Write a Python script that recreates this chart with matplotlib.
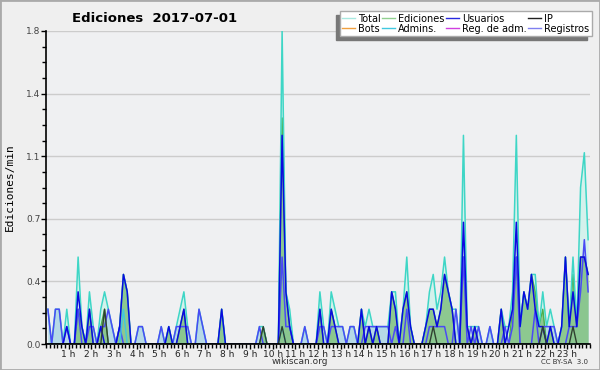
import matplotlib
matplotlib.use("Agg")
import matplotlib.pyplot as plt
from matplotlib.lines import Line2D
import numpy as np

# edits per 10-minute bucket (value = n / 10 edits per minute), 144 buckets
total = [2, 0, 2, 2, 0, 2,   0, 0, 5, 1, 0, 3,   1, 0, 2, 3, 2, 1,   0, 1, 4, 3, 0, 0,
         1, 1, 0, 0, 0, 0,   1, 0, 1, 0, 1, 2,   3, 1, 0, 0, 2, 1,   0, 0, 0, 0, 2, 0,
         0, 0, 0, 0, 0, 0,   0, 0, 1, 1, 0, 0,   0, 0, 18, 3, 2, 0,  0, 0, 1, 0, 0, 0,
         3, 1, 0, 3, 2, 1,   1, 0, 1, 1, 0, 2,   1, 2, 1, 1, 1, 1,   1, 3, 3, 0, 2, 5,
         1, 0, 0, 0, 1, 3,   4, 2, 3, 5, 3, 2,   2, 0, 12, 1, 1, 1,  1, 0, 0, 1, 0, 0,
         2, 1, 1, 3, 12, 1,  3, 2, 4, 4, 1, 3,   1, 2, 1, 0, 1, 5,   1, 5, 1, 9, 11, 6]
ediciones = [0, 0, 0, 0, 0, 0,   0, 0, 2, 1, 0, 2,   0, 0, 1, 2, 0, 0,   0, 1, 4, 3, 0, 0,
             0, 0, 0, 0, 0, 0,   0, 0, 1, 0, 0, 1,   2, 0, 0, 0, 0, 0,   0, 0, 0, 0, 2, 0,
             0, 0, 0, 0, 0, 0,   0, 0, 0, 1, 0, 0,   0, 0, 13, 3, 1, 0,  0, 0, 0, 0, 0, 0,
             2, 0, 0, 2, 1, 0,   0, 0, 0, 0, 0, 2,   0, 1, 0, 1, 0, 0,   0, 3, 2, 0, 2, 3,
             1, 0, 0, 0, 1, 2,   2, 1, 2, 4, 3, 2,   0, 0, 5, 1, 0, 1,   0, 0, 0, 0, 0, 0,
             2, 0, 0, 2, 5, 1,   3, 2, 4, 3, 1, 2,   0, 1, 0, 0, 1, 5,   1, 4, 1, 5, 5, 4]
usuarios = [0, 0, 0, 0, 0, 1,   0, 0, 3, 1, 0, 2,   0, 0, 1, 0, 0, 0,   0, 1, 4, 3, 0, 0,
            0, 0, 0, 0, 0, 0,   0, 0, 1, 0, 0, 1,   2, 0, 0, 0, 0, 0,   0, 0, 0, 0, 2, 0,
            0, 0, 0, 0, 0, 0,   0, 0, 0, 0, 0, 0,   0, 0, 12, 3, 1, 0,  0, 0, 0, 0, 0, 0,
            2, 0, 0, 2, 1, 0,   0, 0, 0, 0, 0, 2,   0, 1, 0, 1, 0, 0,   0, 3, 2, 0, 2, 3,
            1, 0, 0, 0, 1, 2,   2, 1, 2, 4, 3, 2,   0, 0, 7, 1, 0, 1,   0, 0, 0, 0, 0, 0,
            2, 0, 1, 2, 7, 1,   3, 2, 4, 2, 1, 1,   0, 1, 0, 0, 1, 5,   1, 3, 1, 5, 5, 4]
ip = [0] * 144
for k, v in [(15, 2), (57, 1), (62, 1), (102, 1), (131, 1), (139, 1)]:
    ip[k] = v
registros = [2, 0, 2, 2, 0, 1,   0, 0, 2, 0, 0, 1,   1, 0, 1, 1, 2, 1,   0, 1, 0, 0, 0, 0,
             1, 1, 0, 0, 0, 0,   1, 0, 0, 0, 1, 1,   1, 1, 0, 0, 2, 1,   0, 0, 0, 0, 0, 0,
             0, 0, 0, 0, 0, 0,   0, 0, 1, 0, 0, 0,   0, 0, 5, 1, 1, 0,   0, 0, 1, 0, 0, 0,
             1, 1, 0, 1, 1, 1,   1, 0, 1, 1, 0, 0,   1, 1, 1, 1, 1, 1,   1, 0, 1, 0, 0, 2,
             0, 0, 0, 0, 0, 1,   1, 1, 1, 1, 0, 0,   2, 0, 5, 0, 1, 0,   1, 0, 0, 1, 0, 0,
             0, 1, 0, 1, 5, 0,   0, 0, 0, 2, 0, 1,   1, 1, 1, 0, 0, 0,   1, 1, 1, 3, 6, 3]
admins = [0] * 144
for k, v in [(20, 2), (62, 1)]:
    admins[k] = v
bots = [0] * 144
reg_adm = [0] * 144

hour_labels = ["%d h" % h for h in range(1, 24)]

x = (np.arange(144) + 0.5) / 6.0
def rate(a):
    return np.array(a) / 10.0

fig = plt.figure(figsize=(6, 3.7), dpi=100, facecolor="#efefef")
ax = fig.add_axes([46 / 600, 1 - 344 / 370, 544 / 600, 313 / 370])
ax.set_facecolor("#eff0f2")

ax.fill_between(x, rate(total), color="#d4f1ec", lw=0)
ax.fill_between(x, rate(registros), color="#b6d9e6", lw=0)
ax.fill_between(x, rate(ediciones), color="#86c486", alpha=0.9, lw=0)
ax.plot(x, rate(bots), color="#f0a040", lw=1)
ax.plot(x, rate(reg_adm), color="#d040e0", lw=1)
ax.plot(x, rate(ediciones), color="#4caf4c", lw=1.0)
ax.plot(x, rate(total), color="#3ed6c6", lw=1.1)
ax.plot(x, rate(registros), color="#4a4af5", lw=1.1)
ax.plot(x, rate(admins), color="#40c8e0", lw=1.0)
ax.plot(x, rate(usuarios), color="#0a0ae0", lw=1.1)
ax.plot(x, rate(ip), color="#304030", lw=1.0)

ax.set_xlim(0, 24)
ax.set_ylim(0, 1.8)
yt = np.linspace(0, 1.8, 6)
ax.set_yticks(yt)
ax.set_yticklabels(["%.1f" % v for v in yt], fontsize=6.5, color="#444444")
ax.set_yticks(np.arange(0, 1.8001, 0.09), minor=True)
ax.set_xticks(range(1, 24))
ax.set_xticklabels(hour_labels, fontsize=6.5, color="#222222")
ax.set_xticks(np.arange(0, 24.001, 1 / 6), minor=True)
ax.tick_params(axis="both", which="major", length=3.5, width=1, pad=0.5)
ax.tick_params(axis="both", which="minor", length=3, width=1)
ax.grid(axis="y", color="#cccccc", lw=1)
ax.set_axisbelow(True)
for s in ["top", "right"]:
    ax.spines[s].set_visible(False)
ax.spines["left"].set_linewidth(1.2)
ax.spines["bottom"].set_linewidth(1.2)

ax.set_ylabel("Ediciones/min", family="DejaVu Sans Mono", fontsize=8, labelpad=8)

fig.text(0.257, 0.951, "Ediciones  2017-07-01", fontsize=9.5, weight="bold",
         ha="center", va="center")
fig.text(0.5, 0.022, "wikiscan.org", fontsize=6.5, color="#333333", ha="center", va="center")
fig.text(0.98, 0.022, "CC BY-SA  3.0", fontsize=5, color="#333333", ha="right", va="center")

names = ["Total", "Bots", "Ediciones", "Admins.", "Usuarios", "Reg. de adm.", "IP", "Registros"]
cols = ["#a8e8e0", "#f0a040", "#90d090", "#40c8e0", "#2828e0", "#d040e0", "#202020", "#8080f0"]
handles = [Line2D([], [], color=c, lw=1) for c in cols]
leg = fig.legend(handles, names, ncol=4, loc="upper right", bbox_to_anchor=(0.986, 0.97),
                 fontsize=7, frameon=True, fancybox=False, handlelength=1.3,
                 handletextpad=0.3, columnspacing=0.2, labelspacing=0.0,
                 borderpad=0.25, borderaxespad=0,
                 shadow={"ox": -3, "oy": -3, "color": "#777777", "alpha": 1})
leg.get_frame().set_edgecolor("#aaaaaa")
leg.get_frame().set_linewidth(1)

border = plt.Rectangle((0, 0), 1, 1, transform=fig.transFigure, fill=False,
                       edgecolor="#aaaaaa", lw=2)
fig.patches.append(border)

fig.savefig("out.png", dpi=100, facecolor=fig.get_facecolor())
